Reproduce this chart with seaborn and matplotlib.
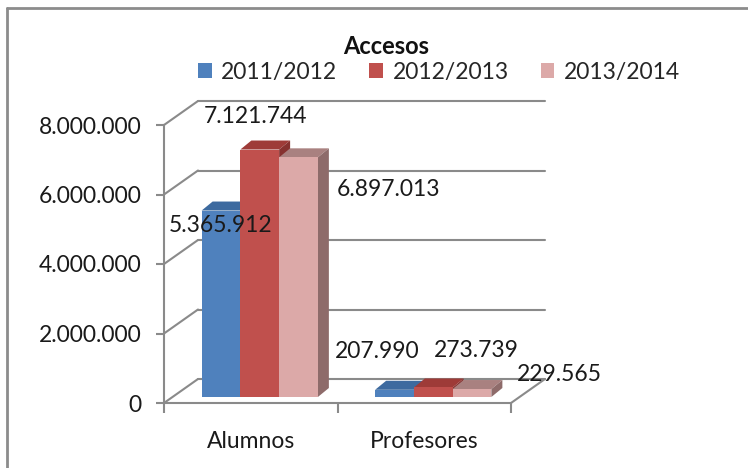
import numpy as np
import pandas as pd
import matplotlib
matplotlib.use("Agg")
import matplotlib.pyplot as plt
from matplotlib.patches import Polygon, Patch
from matplotlib.lines import Line2D
import seaborn as sns

# --- data ---
categories = ["Alumnos", "Profesores"]
periods = ["2011/2012", "2012/2013", "2013/2014"]
alumnos = [5365912, 7121744, 6897013]
profesores = [207990, 273739, 229565]
y_ticks = [0, 2000000, 4000000, 6000000, 8000000]

# --- colours ---
front_colors = ["#4F81BD", "#C0504D", "#DCA9A8"]
top_colors = ["#3D6A9F", "#9E3B38", "#A98180"]
side_colors = ["#2F5687", "#86312F", "#8E6B6A"]
grid_color = "#8A8A8A"

# label offsets in pixels from each bar's top centre (where Excel put them)
label_offsets = [(0, -15), (-4, 33), (90, -32),
                 (-17, 38), (43, 37), (87, 15)]

df = pd.DataFrame({
    "Categoria": np.repeat(categories, len(periods)),
    "Periodo": periods * len(categories),
    "Accesos": alumnos + profesores,
})

sns.set_style("white")
plt.rcParams["font.family"] = ["Lato", "DejaVu Sans"]
FS = 16.5

W, H = 748, 468
fig = plt.figure(figsize=(W / 100, H / 100), dpi=100)

# front plane of the pseudo 3D box, in pixels
left, right, top, bottom = 164, 511, 125, 403
ax = fig.add_axes([left / W, 1 - bottom / H, (right - left) / W, (bottom - top) / H])

sns.barplot(data=df, x="Categoria", y="Accesos", hue="Periodo",
            palette=front_colors, saturation=1, width=0.67, ax=ax, legend=False)
ax.set_xlim(-0.5, 1.5)
ax.set_ylim(0, y_ticks[-1])

# pixel -> data units
sx = 2.0 / (right - left)
sy = y_ticks[-1] / (bottom - top)
wall_dx, wall_dy = 34 * sx, 24 * sy      # depth of the box
bar_fx, bar_fy = 9 * sx, 6 * sy          # bars front plane
bar_dx, bar_dy = 11 * sx, 9 * sy         # depth of one bar

# back wall gridlines + left wall diagonals
for t in y_ticks:
    ax.plot([-0.5 + wall_dx, 1.5 + wall_dx], [t + wall_dy, t + wall_dy],
            color=grid_color, lw=1.5, clip_on=False, zorder=1)
    ax.plot([-0.5, -0.5 + wall_dx], [t, t + wall_dy],
            color=grid_color, lw=1.5, clip_on=False, zorder=1)
ax.plot([1.5, 1.5 + wall_dx], [0, wall_dy], color=grid_color, lw=1.5,
        clip_on=False, zorder=1)

# fake 3D bars: move the front faces back a little, add top and side faces
values = alumnos + profesores
bars = sorted(ax.patches, key=lambda p: p.get_x())
for i, p in enumerate(bars):
    k = i % len(periods)
    x0 = p.get_x() + bar_fx
    w = p.get_width()
    h = p.get_height() + bar_fy
    p.set_x(x0)
    p.set_y(bar_fy)
    p.set_height(h - bar_fy)
    p.set_zorder(3)
    p.set_edgecolor("none")
    top_face = [(x0, h), (x0 + w, h), (x0 + w + bar_dx, h + bar_dy), (x0 + bar_dx, h + bar_dy)]
    side_face = [(x0 + w, bar_fy), (x0 + w + bar_dx, bar_fy + bar_dy),
                 (x0 + w + bar_dx, h + bar_dy), (x0 + w, h)]
    ax.add_patch(Polygon(top_face, closed=True, facecolor=top_colors[k],
                         edgecolor="none", zorder=2, clip_on=False))
    ax.add_patch(Polygon(side_face, closed=True, facecolor=side_colors[k],
                         edgecolor="none", zorder=2, clip_on=False))
    label = f"{values[i]:,}".replace(",", ".")
    ax.annotate(label, xy=(x0 + w / 2, h), xytext=label_offsets[i],
                textcoords="offset pixels", ha="center", va="center",
                fontsize=FS, color="#1A1A1A", zorder=5, annotation_clip=False)

# axes styling
sns.despine(ax=ax, top=True, right=True)
for s in ["left", "bottom"]:
    ax.spines[s].set_color(grid_color)
    ax.spines[s].set_linewidth(1.5)
ax.set_yticks(y_ticks)
ax.set_yticklabels([f"{t:,}".replace(",", ".") for t in y_ticks], fontsize=FS, color="#1A1A1A")
ax.tick_params(axis="y", left=True, length=6, width=1.5, color=grid_color, pad=10)
ax.set_xticks(range(len(categories)))
ax.set_xticklabels(categories, fontsize=FS, color="#1A1A1A")
ax.set_xticks([-0.5, 0.5, 1.5], minor=True)
ax.tick_params(axis="x", which="major", length=0, pad=20)
ax.tick_params(axis="x", which="minor", bottom=True, length=7, width=1.5, color=grid_color)
ax.set_xlabel("")
ax.set_ylabel("")
ax.patch.set_alpha(0)

# title and legend
fig.text(386 / W, 1 - 46 / H, "Accesos", ha="center", va="center",
         fontsize=17, fontweight="bold", color="#111111")
handles = [Patch(facecolor=c, edgecolor="none") for c in front_colors]
fig.legend(handles, periods, loc="center", bbox_to_anchor=(439 / W, 1 - 72 / H),
           ncol=3, frameon=False, fontsize=FS, handlelength=0.6, handleheight=0.6,
           handletextpad=0.4, columnspacing=1.4)

# outer chart frame
fig.add_artist(Line2D([7 / W, 7 / W], [0, 1 - 8 / H], color="#8C8C8C", lw=2))
fig.add_artist(Line2D([7 / W, 1], [1 - 8 / H, 1 - 8 / H], color="#8C8C8C", lw=2))

fig.savefig("out.png", dpi=100, facecolor="white")
